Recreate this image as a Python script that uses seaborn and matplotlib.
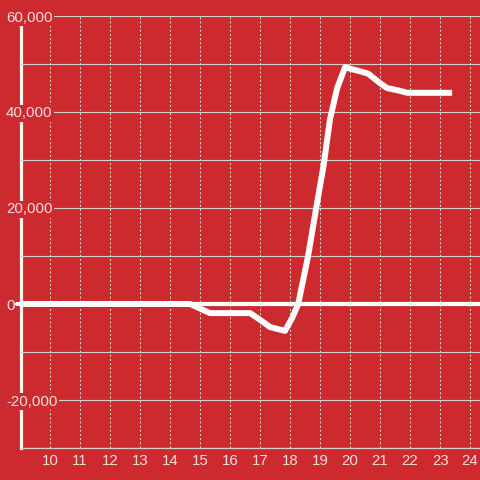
import matplotlib
matplotlib.use("Agg")
import matplotlib.pyplot as plt
import matplotlib.ticker as mticker
import seaborn as sns
import pandas as pd

# data
hours = [9.0, 14.67, 15.33, 16.67, 17.0, 17.33, 17.83, 18.07, 18.27, 18.6, 18.87,
         19.12, 19.33, 19.57, 19.83, 20.2, 20.6, 21.0, 21.23, 21.67, 21.9, 23.4]
values = [0, 0, -1900, -1900, -3300, -4800, -5600, -2900, 0, 10000, 20000,
          29000, 38500, 45000, 49300, 48700, 48000, 46000, 45000, 44400, 44000, 44000]
x_ticks = list(range(10, 25))
y_major = [-20000, 0, 20000, 40000, 60000]

RED = "#cd2a30"
GRID = "#d0d0d0"
TXT = "#f3dede"

sns.set_style("white")
plt.rcParams["font.family"] = ["Liberation Sans", "DejaVu Sans"]

fig = plt.figure(figsize=(4.8, 4.8), dpi=100, facecolor=RED)
ax = fig.add_axes([21 / 480, 32 / 480, 459 / 480, 432 / 480])
ax.set_facecolor(RED)

df = pd.DataFrame({"hour": hours, "value": values})
sns.lineplot(data=df, x="hour", y="value", ax=ax, color="white", linewidth=4.3,
             estimator=None, sort=False, zorder=3)
for ln in ax.lines:
    ln.set_solid_capstyle("butt")

ax.set_xlim(9.03, 24.33)
ax.set_ylim(-30000, 60000)
ax.set_xlabel("")
ax.set_ylabel("")

ax.set_xticks(x_ticks)
ax.set_yticks(y_major)
ax.yaxis.set_minor_locator(mticker.MultipleLocator(10000))
ax.yaxis.set_major_formatter(mticker.FuncFormatter(lambda v, p: f"{int(v):,}"))

ax.set_axisbelow(True)
ax.grid(True, axis="y", which="both", color=GRID, linewidth=0.8, linestyle="-")
ax.grid(True, axis="x", which="major", color=GRID, linewidth=0.75, linestyle=(0, (2, 2)))

ax.tick_params(axis="x", length=0, pad=4, labelsize=10.8, labelcolor=TXT)
ax.tick_params(axis="y", which="both", length=0, pad=10.8, labelsize=10.8, labelcolor=TXT)
for lab in ax.get_yticklabels():
    lab.set_horizontalalignment("left")
    lab.set_bbox(dict(facecolor=RED, edgecolor="none", pad=1.2))

for s in ["top", "right"]:
    ax.spines[s].set_visible(False)
ax.spines["bottom"].set_color(GRID)
ax.spines["bottom"].set_linewidth(0.9)
ax.spines["left"].set_color("#f4f4f4")
ax.spines["left"].set_linewidth(2.3)
ax.spines["left"].set_zorder(0.4)

ax.axhline(0, xmin=-0.009, xmax=1, color="white", linewidth=3, clip_on=False, zorder=2)

fig.savefig("out.png", dpi=100, facecolor=RED)
